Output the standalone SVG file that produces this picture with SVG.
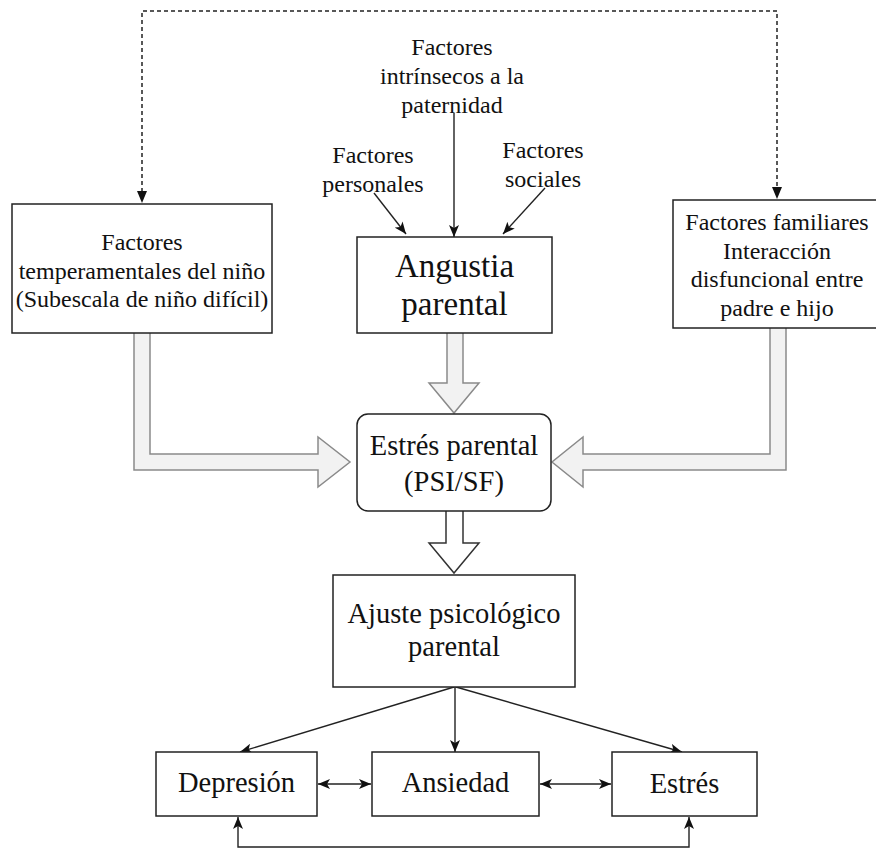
<svg xmlns="http://www.w3.org/2000/svg" width="876" height="848" viewBox="0 0 876 848">
<style>
  text { font-family: "Liberation Serif", "Times New Roman", serif; fill: #111; text-anchor: middle; }
  .s { font-size: 24px; }
  .m { font-size: 28.5px; }
  .l { font-size: 33px; }
  .box { fill: #fff; stroke: #222; stroke-width: 1.5; }
  .thin { fill: none; stroke: #222; stroke-width: 1.4; }
  .dash { fill: none; stroke: #222; stroke-width: 1.5; stroke-dasharray: 4 3; }
  .big { fill: #f2f2f2; stroke: #8a8a8a; stroke-width: 1.5; stroke-linejoin: miter; }
  .bigw { fill: #fff; stroke: #333; stroke-width: 1.5; }
</style>
<defs>
  <marker id="ah" viewBox="0 0 12 10" refX="12" refY="5" markerWidth="12" markerHeight="10" markerUnits="userSpaceOnUse" orient="auto-start-reverse">
    <path d="M0,0 L12,5 L0,10 L3,5 Z" fill="#111"/>
  </marker>
</defs>

<g id="connectors">
  <!-- dashed feedback line -->
  <path class="dash" d="M142,192 V11 H777 V188" />
  <path d="M137,191 L147,191 L142,203 Z" fill="#111"/>
  <path d="M772,187 L782,187 L777,199 Z" fill="#111"/>

  <!-- arrows into Angustia -->
  <path class="thin" d="M454,113 V237" marker-end="url(#ah)"/>
  <path class="thin" d="M374,193 L406,234" marker-end="url(#ah)"/>
  <path class="thin" d="M545,188 L503,234" marker-end="url(#ah)"/>

  <!-- big hollow arrows -->
  <path class="big" d="M134,333 V470 H318 V487 L350,462 L318,437 V454 H150 V333" />
  <path class="big" d="M786,328 V470 H583 V487 L552,462 L583,437 V454 H770 V328" />
  <path class="big" d="M447,333 V383 H429 L454,413 L479,383 H463 V333" />
  <path class="bigw" d="M446,511 V543 H429 L454,573 L479,543 H463 V511" />

  <!-- Ajuste to outcomes -->
  <path class="thin" d="M454,687 L240,752" marker-end="url(#ah)"/>
  <path class="thin" d="M455,687 V752" marker-end="url(#ah)"/>
  <path class="thin" d="M456,687 L682,752" marker-end="url(#ah)"/>

  <!-- double arrows -->
  <path class="thin" d="M318,784 H371" marker-start="url(#ah)" marker-end="url(#ah)"/>
  <path class="thin" d="M540,784 H611" marker-start="url(#ah)" marker-end="url(#ah)"/>

  <!-- bottom link -->
  <path class="thin" d="M238,817 V847 H689 V817" marker-start="url(#ah)" marker-end="url(#ah)"/>
</g>

<g id="label-intrinsecos">
  <text class="s" x="452" y="55">Factores</text>
  <text class="s" x="452" y="84">intrínsecos a la</text>
  <text class="s" x="452" y="113">paternidad</text>
</g>
<g id="label-personales">
  <text class="s" x="373" y="163">Factores</text>
  <text class="s" x="373" y="192">personales</text>
</g>
<g id="label-sociales">
  <text class="s" x="543" y="158">Factores</text>
  <text class="s" x="543" y="187">sociales</text>
</g>

<g id="node-temperamentales">
  <rect class="box" x="12" y="204" width="260" height="129"/>
  <text class="s" x="142" y="250">Factores</text>
  <text class="s" x="142" y="278.5">temperamentales del niño</text>
  <text class="s" x="142" y="307">(Subescala de niño difícil)</text>
</g>

<g id="node-angustia">
  <rect class="box" x="357" y="237" width="195" height="96"/>
  <text class="l" x="454.5" y="277">Angustia</text>
  <text class="l" x="454.5" y="315">parental</text>
</g>

<g id="node-familiares">
  <rect class="box" x="673" y="200" width="210" height="128"/>
  <text class="s" x="777" y="230">Factores familiares</text>
  <text class="s" x="777" y="258.5">Interacción</text>
  <text class="s" x="777" y="287">disfuncional entre</text>
  <text class="s" x="777" y="315.5">padre e hijo</text>
</g>

<g id="node-estres-parental">
  <rect class="box" x="357" y="414" width="194" height="97" rx="11" ry="11"/>
  <text class="m" x="454" y="455">Estrés parental</text>
  <text class="m" x="454" y="491">(PSI/SF)</text>
</g>

<g id="node-ajuste">
  <rect class="box" x="333" y="575" width="242" height="112"/>
  <text class="m" x="454" y="623">Ajuste psicológico</text>
  <text class="m" x="454" y="656">parental</text>
</g>

<g id="node-depresion">
  <rect class="box" x="156" y="752" width="161" height="64"/>
  <text class="m" x="236.5" y="792">Depresión</text>
</g>
<g id="node-ansiedad">
  <rect class="box" x="372" y="752" width="167" height="64"/>
  <text class="m" x="455.5" y="792">Ansiedad</text>
</g>
<g id="node-estres">
  <rect class="box" x="612" y="752" width="145" height="64"/>
  <text class="m" x="684.5" y="793">Estrés</text>
</g>
</svg>
